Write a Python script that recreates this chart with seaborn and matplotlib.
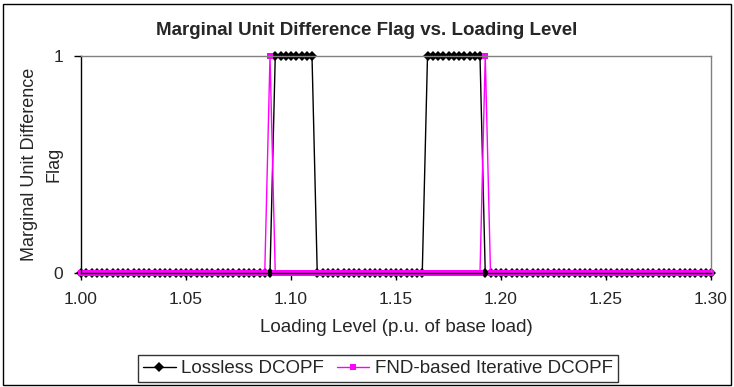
import numpy as np
import pandas as pd
import matplotlib
matplotlib.use('Agg')
import matplotlib.pyplot as plt
from matplotlib.patches import Rectangle
import seaborn as sns

# loading level grid, step 0.0025 p.u. from 1.00 to 1.30
loading_level = np.round(1.0 + 0.0025 * np.arange(121), 4)

lossless_flag = [
    0, 0, 0, 0, 0, 0, 0, 0, 0, 0, 0, 0, 0, 0, 0, 0, 0, 0, 0, 0,
    0, 0, 0, 0, 0, 0, 0, 0, 0, 0, 0, 0, 0, 0, 0, 0, 0, 1, 1, 1,
    1, 1, 1, 1, 1, 0, 0, 0, 0, 0, 0, 0, 0, 0, 0, 0, 0, 0, 0, 0,
    0, 0, 0, 0, 0, 0, 1, 1, 1, 1, 1, 1, 1, 1, 1, 1, 1, 0, 0, 0,
    0, 0, 0, 0, 0, 0, 0, 0, 0, 0, 0, 0, 0, 0, 0, 0, 0, 0, 0, 0,
    0, 0, 0, 0, 0, 0, 0, 0, 0, 0, 0, 0, 0, 0, 0, 0, 0, 0, 0, 0,
    0,
]

fnd_flag = [
    0, 0, 0, 0, 0, 0, 0, 0, 0, 0, 0, 0, 0, 0, 0, 0, 0, 0, 0, 0,
    0, 0, 0, 0, 0, 0, 0, 0, 0, 0, 0, 0, 0, 0, 0, 0, 1, 0, 0, 0,
    0, 0, 0, 0, 0, 0, 0, 0, 0, 0, 0, 0, 0, 0, 0, 0, 0, 0, 0, 0,
    0, 0, 0, 0, 0, 0, 0, 0, 0, 0, 0, 0, 0, 0, 0, 0, 0, 1, 0, 0,
    0, 0, 0, 0, 0, 0, 0, 0, 0, 0, 0, 0, 0, 0, 0, 0, 0, 0, 0, 0,
    0, 0, 0, 0, 0, 0, 0, 0, 0, 0, 0, 0, 0, 0, 0, 0, 0, 0, 0, 0,
    0,
]

sns.set_style('white')
plt.rcParams['font.family'] = ['Liberation Sans', 'DejaVu Sans']

fig = plt.figure(figsize=(7.34, 3.87), dpi=100)
ax = fig.add_axes([81 / 734, 1 - 273 / 387, 630 / 734, 217 / 387])

sns.lineplot(x=loading_level, y=lossless_flag, ax=ax, color='black',
             marker='D', markersize=5, linewidth=1, markeredgewidth=0,
             label='Lossless DCOPF', clip_on=False)
sns.lineplot(x=loading_level, y=fnd_flag, ax=ax, color='#FF00FF',
             marker='s', markersize=4, linewidth=1, markeredgewidth=0,
             label='FND-based Iterative DCOPF', clip_on=False)

ax.set_xlim(1.0, 1.3)
ax.set_ylim(0, 1)
ax.set_xticks([1.00, 1.05, 1.10, 1.15, 1.20, 1.25, 1.30])
ax.set_xticklabels(['1.00', '1.05', '1.10', '1.15', '1.20', '1.25', '1.30'])
ax.set_yticks([0, 1])
ax.tick_params(axis='both', direction='out', length=5, width=1, color='black',
               labelsize=12.5, bottom=True, left=True)
ax.tick_params(axis='x', pad=9)
ax.tick_params(axis='y', pad=8)

for side in ['left', 'bottom']:
    ax.spines[side].set_color('black')
    ax.spines[side].set_linewidth(1)
for side in ['top', 'right']:
    ax.spines[side].set_color('#808080')
    ax.spines[side].set_linewidth(1)

# chart title is centred on the whole chart area
fig.text(0.5, 1 - 35 / 387, 'Marginal Unit Difference Flag vs. Loading Level',
         ha='center', va='baseline', fontsize=13.5, fontweight='bold')
ax.set_xlabel('Loading Level (p.u. of base load)', fontsize=13.5)
ax.set_ylabel('Marginal Unit Difference\nFlag', fontsize=13, linespacing=1.55)
ax.xaxis.set_label_coords(0.5, -0.212)
ax.yaxis.set_label_coords(-0.03, 0.5)

ax.legend_.remove()
handles, labels = ax.get_legend_handles_labels()
leg = fig.legend(handles, labels, loc='center',
                 bbox_to_anchor=(378 / 734, 1 - 368.5 / 387),
                 ncol=2, frameon=True, fancybox=False, edgecolor='black',
                 fontsize=13.5, handlelength=1.75, columnspacing=0.65,
                 borderpad=0.25, handletextpad=0.3)
leg.get_frame().set_linewidth(1)

fig.patches.append(Rectangle((3 / 734, 2 / 387), 728 / 734, 381 / 387,
                             transform=fig.transFigure, fill=False,
                             edgecolor='black', linewidth=1))

fig.savefig('out.png', dpi=100)
